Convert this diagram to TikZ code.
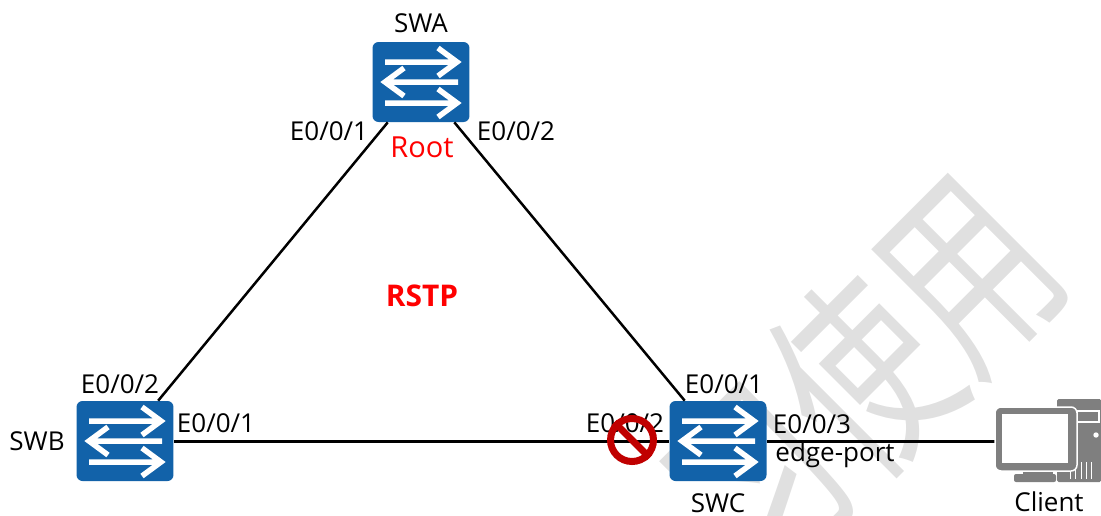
\documentclass[tikz,border=0pt]{standalone}
\usepackage{fontspec}
\setmainfont{Open Sans}
\newfontfamily\cjk{Noto Sans CJK SC}
\definecolor{swblue}{HTML}{1262A9}
\definecolor{pcgray}{HTML}{7F7F7F}
\definecolor{wmgray}{HTML}{E0E0E0}
\definecolor{stopred}{HTML}{C00000}
\begin{document}
\begin{tikzpicture}[x=0.02cm,y=-0.02cm]
\tikzstyle{every node}=[inner sep=0pt,font=\fontsize{14.8}{16}\selectfont]
\tikzstyle{switch}=[fill=swblue,rounded corners=1.2mm,minimum width=1.94cm,minimum height=1.6cm]
\tikzstyle{arrowline}=[draw=white,line width=0.11cm]
\tikzstyle{link}=[line width=0.05cm]
\useasboundingbox (0,0) rectangle (1101,515);
\begin{scope}
\clip (0,0) rectangle (1101,515);
\node[rotate=45,xscale=0.7,text=wmgray,font=\cjk\fontsize{120}{120}\selectfont] at (862,376) (mark) {习使用};
\end{scope}
\node[switch] at (421,82) (swa) {};
\node[switch] at (125,441) (swb) {};
\node[switch] at (718,441) (swc) {};
\node at (1036,441) (client) [minimum width=1.64cm,minimum height=1.28cm] {};
\draw[link] (swa) -- (swb)
            (swa) -- (swc);
\draw[link,line width=0.06cm] (swb) -- (swc)
            (swc) -- (client);
\foreach \sw in {swa,swb,swc} {
  \begin{scope}[shift=(\sw.center)]
    \draw[arrowline] (-36,-20) -- (35,-20) (17,-34) -- (36,-20) -- (17,-6);
    \draw[arrowline] (37,0) -- (-35,0) (-17,-14) -- (-36,0) -- (-17,14);
    \draw[arrowline] (-36,21) -- (35,21) (17,7) -- (36,21) -- (17,35);
  \end{scope}
}
\fill[pcgray,rounded corners=0.03cm] (1057,399) rectangle (1101,482);
\draw[white,line width=0.03cm] (1077,411) rectangle (1099,422);
\fill[white] (1096,435) circle (2.7);
\foreach \vx in {1070,1075,1081,1086,1091} {
  \draw[white,line width=0.02cm] (\vx,462) -- (\vx,479);
}
\fill[pcgray] (1023,470) rectangle (1053,475);
\fill[pcgray,rounded corners=0.04cm] (1014,474) rectangle (1056,482);
\draw[white,line width=0.03cm,fill=pcgray,rounded corners=0.12cm] (995,407) rectangle (1077,471);
\fill[white] (1002,414) rectangle (1068,463);
\node at (421,23) (swalabel) {SWA};
\node at (37,441) (swblabel) {SWB};
\node at (718,503) (swclabel) {SWC};
\node at (1049,502) (clientlabel) {Client};
\node at (329,131) (aport1) {E0/0/1};
\node at (516,131) (aport2) {E0/0/2};
\node at (120,384) (bport2) {E0/0/2};
\node at (216,423) (bport1) {E0/0/1};
\node at (625,423) (cport2) {E0/0/2};
\node at (724,384) (cport1) {E0/0/1};
\node at (812,424) (cport3) {E0/0/3};
\node at (835,455) (edge) {edge-port};
\node[text=red,font=\fontsize{16.5}{18}\selectfont] at (422,147) (root) {Root};
\node[text=red,font=\fontsize{17}{18}\selectfont\bfseries] at (422,296) (rstp) {RSTP};
\node[circle,draw=stopred,line width=0.14cm,minimum size=0.86cm] at (632,440) (stop) {};
\draw[stopred,line width=0.14cm] (stop.135) -- (stop.315);
\end{tikzpicture}
\end{document}
